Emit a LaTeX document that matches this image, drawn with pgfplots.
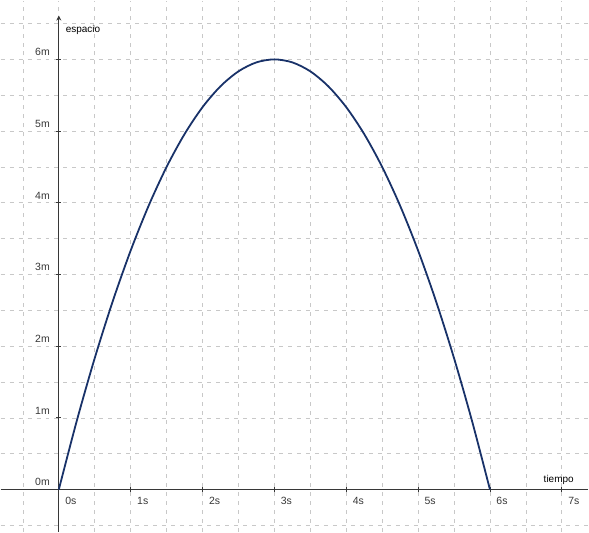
\documentclass[border=0pt]{standalone}
\usepackage{fontspec}
\setmainfont{Liberation Sans}
\usepackage{pgfplots}
\pgfplotsset{compat=1.18}
\usetikzlibrary{arrows.meta}
\definecolor{curva}{RGB}{25,50,105}
\definecolor{ejes}{RGB}{55,55,55}
\definecolor{rejilla}{RGB}{200,200,200}

\begin{document}
\begin{tikzpicture}
\begin{axis}[
    scale only axis,
    width=589pt, height=532pt,
    xmin=-0.81, xmax=7.37,
    ymin=-0.585, ymax=6.82,
    axis lines=middle,
    axis line style={ejes, line width=1.2pt},
    y axis line style={-{Stealth[length=5pt,width=5pt]}, shorten >=15pt},
    x axis line style={-},
    hide obscured x ticks=false,
    hide obscured y ticks=false,
    xtick={0,...,7},
    xticklabels={0s,1s,2s,3s,4s,5s,6s,7s},
    ytick={0,...,6},
    yticklabels={0m,1m,2m,3m,4m,5m,6m},
    minor xtick={-0.5,0.5,...,7},
    minor ytick={-0.5,0.5,...,6.5},
    grid=both,
    major grid style={rejilla, dash pattern=on 4pt off 5pt, line width=0.7pt},
    minor grid style={rejilla, dash pattern=on 4pt off 5pt, line width=0.7pt},
    major tick length=5pt,
    minor tick length=0pt,
    tick style={ejes, line width=0.8pt},
    tick label style={font=\fontsize{10.5}{12}\selectfont, text=ejes},
    xticklabel style={anchor=north west, xshift=3pt, yshift=-2pt},
    yticklabel style={anchor=south east, xshift=-3pt, yshift=0pt},
    xlabel={tiempo}, ylabel={espacio},
    label style={font=\fontsize{10.5}{12}\selectfont, text=ejes},
    every axis x label/.style={at={(rel axis cs:0.918,0.098)}, anchor=west},
    every axis y label/.style={at={(rel axis cs:0.105,0.944)}, anchor=west},
]
\addplot[curva, line width=1.8pt, smooth] coordinates {
    (0,0) (0.25,0.9583) (0.5,1.8333) (0.75,2.625) (1,3.3333)
    (1.25,3.9583) (1.5,4.5) (1.75,4.9583) (2,5.3333) (2.25,5.625)
    (2.5,5.8333) (2.75,5.9583) (3,6) (3.25,5.9583) (3.5,5.8333)
    (3.75,5.625) (4,5.3333) (4.25,4.9583) (4.5,4.5) (4.75,3.9583)
    (5,3.3333) (5.25,2.625) (5.5,1.8333) (5.75,0.9583) (6,0)
};
\end{axis}
\end{tikzpicture}
\end{document}
